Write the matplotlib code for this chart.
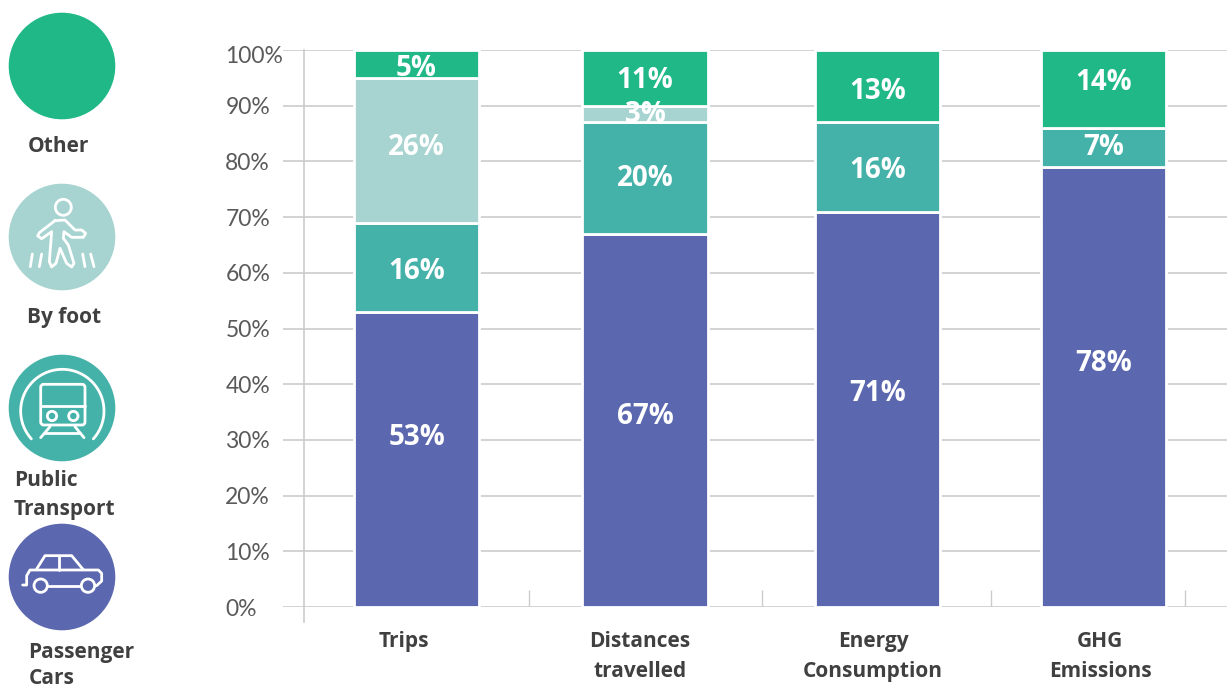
import numpy as np
import matplotlib
matplotlib.use("Agg")
import matplotlib.pyplot as plt
from matplotlib.patches import Circle, FancyBboxPatch
from matplotlib.transforms import ScaledTranslation

W, H = 1227, 689
categories = ["Trips", "Distances\ntravelled", "Energy\nConsumption", "GHG\nEmissions"]
series_names = ["Passenger\nCars", "Public\nTransport", "By foot", "Other"]
cars = [53, 67, 71, 79]
transit = [16, 20, 16, 7]
foot = [26, 3, 0, 0]
other = [5, 10, 13, 14]
cars_lab = ["53%", "67%", "71%", "78%"]
transit_lab = ["16%", "20%", "16%", "7%"]
foot_lab = ["26%", "3%", "", ""]
other_lab = ["5%", "11%", "13%", "14%"]
y_ticks = list(range(0, 101, 10))

# layout (pixel-based x scale, label heights in axis units)
bar_x = [416.5, 645, 877.5, 1103.5]
bar_w = 125.5
cat_x = [404, 640, 873, 1100]
sep_x = [529, 762, 991, 1185]
axis_x = 304
lab_y = [
    [30.5, 34.2, 38.3, 43.7],
    [60.3, 76.9, 78.3, 82.5],
    [82.5, 88.4, None, None],
    [96.6, 94.5, 92.5, 94.1],
]
colors = ["#5B67AE", "#45B2A9", "#A7D4D0", "#1FB886"]
TXT = "#404040"
GRID = "#CCCCCC"
SANS = "Open Sans"

fig = plt.figure(figsize=(W / 100, H / 100), dpi=100, facecolor="white")
L, R, T, B = 283, 1227, 50, 607
ax = fig.add_axes([L / W, 1 - B / H, (R - L) / W, (B - T) / H])
ax.set_xlim(L, R)
ax.set_ylim(0, 100)
for s in ax.spines.values():
    s.set_visible(False)
ax.patch.set_alpha(0)
ax.set_axisbelow(True)
ax.yaxis.grid(True, color=GRID, lw=1.2)
ax.set_yticks(y_ticks)
ax.set_yticklabels([f"{v}%" for v in y_ticks], fontfamily="Lato", fontweight="normal",
                   fontsize=16.5, color="#5A5A5A")
ax.tick_params(axis="y", length=0, pad=41.5)
for lb in ax.get_yticklabels():
    lb.set_ha("left")
top_lb = ax.get_yticklabels()[-1]
top_lb.set_transform(top_lb.get_transform() + ScaledTranslation(0, -3 / 72, fig.dpi_scale_trans))

ax.set_xticks(cat_x)
ax.set_xticklabels(categories, fontfamily=SANS, fontweight="bold", fontsize=15, color=TXT,
                   linespacing=1.6)
ax.tick_params(axis="x", length=0, pad=17)

ax.plot([axis_x, axis_x], [-2.7, 100], color=GRID, lw=1.2, clip_on=False, zorder=1)
ax.vlines(sep_x, 0, 3, color=GRID, lw=1.0, zorder=1)

bottom = np.zeros(4)
for vals, col in zip([cars, transit, foot, other], colors):
    ax.bar(bar_x, vals, width=bar_w, bottom=bottom, color=col, edgecolor="white",
           linewidth=2.0, zorder=2)
    bottom += np.array(vals)
for labs, ys in zip([cars_lab, transit_lab, foot_lab, other_lab], lab_y):
    for x, t, y in zip(bar_x, labs, ys):
        if t:
            ax.text(x, y, t, color="white", fontfamily=SANS, fontweight="bold", fontsize=20,
                    ha="center", va="center", zorder=3)

# overlay for the legend icons, in image pixels
ov = fig.add_axes([0, 0, 1, 1])
ov.set_xlim(0, W)
ov.set_ylim(H, 0)
ov.axis("off")
ov.patch.set_alpha(0)

icon_y = [577, 408, 237, 66]
icon_r = 53.3
for y, col in zip(icon_y, colors):
    ov.add_patch(Circle((62, y), icon_r, fc=col, ec="none"))

LW = 2.0
def poly(pts, oy=0, lw=LW):
    p = np.array(pts, float) / 3
    ov.plot(p[:, 0], p[:, 1] + oy, color="white", lw=lw, solid_capstyle="round",
            solid_joinstyle="round")

# walker (crop coordinates / 3)
ov.add_patch(Circle((63.3, 207.3), 8, fc="none", ec="white", lw=LW))
poly([(165, 662), (118, 698), (113, 708), (125, 716), (155, 695), (148, 785), (155, 801),
      (168, 790), (180, 745), (200, 790), (215, 801), (222, 790), (205, 735), (190, 715),
      (192, 695), (215, 712), (250, 712), (257, 700), (245, 690), (225, 690), (195, 660), (165, 662)])
for a in [[(97, 762), (91, 800)], [(125, 762), (118, 800)], [(248, 762), (255, 800)], [(272, 762), (282, 800)]]:
    poly(a)

# train
oy = 345
ov.add_patch(FancyBboxPatch((40.7, 39.3 + oy), 44.3, 40.7, boxstyle="round,pad=0,rounding_size=3",
                            fc="none", ec="white", lw=LW))
poly([(122, 182), (255, 182)], oy)
for cx in (156, 220):
    ov.add_patch(Circle((cx / 3, 213 / 3 + oy), 14 / 3, fc="none", ec="white", lw=LW))
poly([(150, 245), (122, 278)], oy)
poly([(225, 245), (252, 278)], oy)
poly([(135, 263), (240, 263)], oy)
th = np.radians(np.linspace(-222, 42, 80))
poly(np.c_[187 + 125 * np.cos(th), 198 + 125 * np.sin(th)], oy)

# car
poly([(68, 720), (80, 720), (80, 692), (90, 675), (295, 675), (305, 685), (305, 708), (290, 722), (285, 722)], oy)
poly([(145, 722), (243, 722)], oy)
poly([(110, 672), (135, 632), (215, 632), (250, 674)], oy)
poly([(176, 632), (176, 674)], oy)
for cx in (122, 264):
    ov.add_patch(Circle((cx / 3, 722 / 3 + oy), 20 / 3, fc=colors[0], ec="white", lw=LW, zorder=5))

# legend captions
for (x, y, t, ha, sp) in [(58, 147, series_names[3], "center", 1.45), (64.5, 318, series_names[2], "center", 1.45),
                          (14, 495, series_names[1], "left", 1.45), (28.5, 665.5, series_names[0], "left", 1.36)]:
    ov.text(x, y, t, fontfamily=SANS, fontweight="bold", fontsize=15, color=TXT, ha=ha, va="center",
            linespacing=sp)

fig.savefig("out.png", dpi=100, facecolor="white")
